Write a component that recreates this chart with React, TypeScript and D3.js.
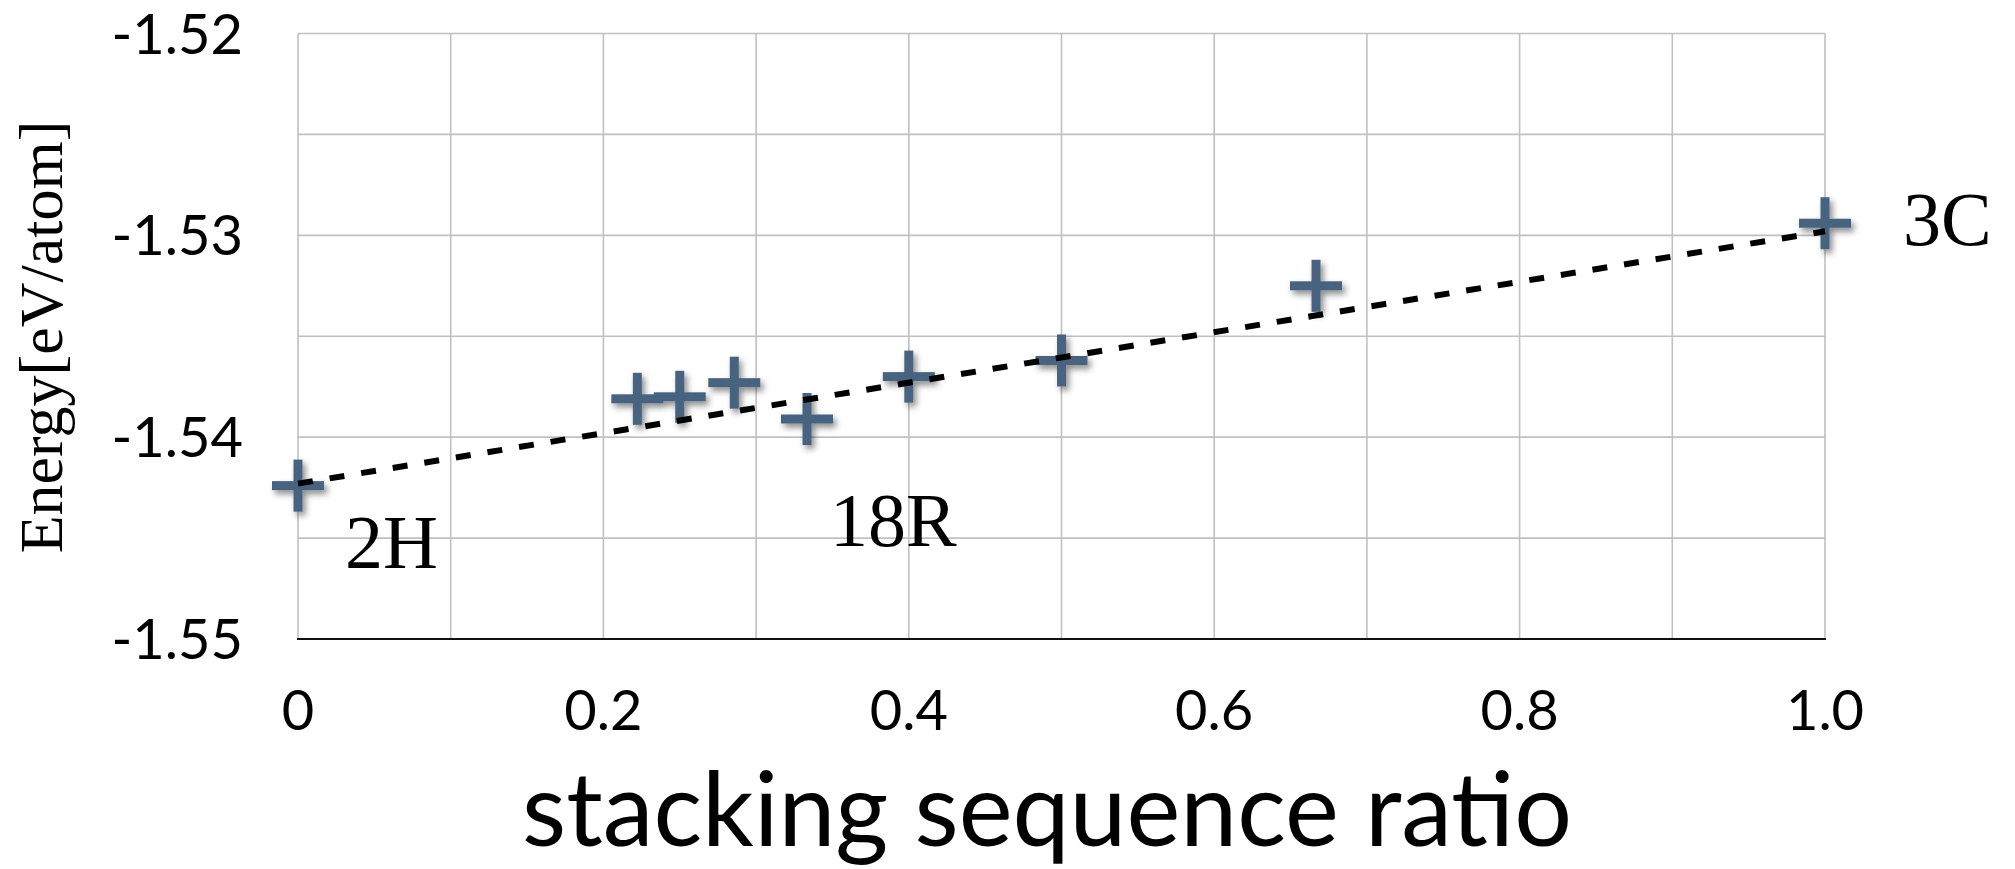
import React from "react";
import * as d3 from "d3";

// stacking ratio vs energy per atom
const ratios = [0, 2 / 9, 0.25, 2 / 7, 1 / 3, 0.4, 0.5, 2 / 3, 1.0];
const energies = [-1.5424, -1.5381, -1.538, -1.5373, -1.5391, -1.537, -1.5362, -1.5325, -1.5294];
const trendX = [0, 1.0];
const trendY = [-1.5423, -1.5298];
const yTicks = [-1.52, -1.53, -1.54, -1.55];
const yTickLabels = ["-1.52", "-1.53", "-1.54", "-1.55"];
const xTicks = [0, 0.2, 0.4, 0.6, 0.8, 1.0];
const xTickLabels = ["0", "0.2", "0.4", "0.6", "0.8", "1.0"];
const phaseLabels = [
    { text: "2H", x: 0, y: -1.5465 },
    { text: "18R", x: 1 / 3, y: -1.5454 },
    { text: "3C", x: 1.0, y: -1.5294 },
];

const W = 2015;
const H = 869;
const margin = { top: 33.5, right: 190, bottom: 230, left: 298 };

const App = () => {
    const x = d3.scaleLinear().domain([0, 1]).range([margin.left, W - margin.right]);
    const y = d3.scaleLinear().domain([-1.55, -1.52]).range([H - margin.bottom, margin.top]);

    const xGrid = d3.range(0, 1.0001, 0.1);
    const yGrid = d3.range(-1.55, -1.5199, 0.005);

    const line = d3
        .line<number>()
        .x((d, i) => x(d))
        .y((d, i) => y(trendY[i]));

    const arm = 26;
    const armW = 9;
    const labelFont = "'Liberation Serif', 'Times New Roman', serif";
    const tickFont = "Lato, 'Open Sans', sans-serif";

    return (
        <svg width={W} height={H} style={{ position: "absolute", left: 0, top: 0, background: "#fff" }}>
            <defs>
                <filter id="shadow" x="-50%" y="-50%" width="200%" height="200%">
                    <feDropShadow dx="3" dy="4" stdDeviation="3" floodColor="#000" floodOpacity="0.45" />
                </filter>
            </defs>

            {/* grid */}
            {xGrid.map((v, i) => (
                <line key={"gx" + i} x1={x(v)} x2={x(v)} y1={y(-1.52)} y2={y(-1.55)} stroke="#c0c0c0" strokeWidth={1.6} />
            ))}
            {yGrid.map((v, i) => (
                <line key={"gy" + i} x1={x(0)} x2={x(1)} y1={y(v)} y2={y(v)} stroke="#c0c0c0" strokeWidth={1.6} />
            ))}
            <line x1={x(0) - 1} x2={x(1) + 1} y1={y(-1.55)} y2={y(-1.55)} stroke="#111" strokeWidth={2.2} />

            {/* y ticks */}
            {yTicks.map((v, i) => (
                <text key={"yt" + i} x={243} y={y(v)} dy="0.36em" textAnchor="end" fontFamily={tickFont} fontSize={56} fill="#000">
                    {yTickLabels[i]}
                </text>
            ))}
            {/* x ticks */}
            {xTicks.map((v, i) => (
                <text key={"xt" + i} x={x(v)} y={710} dy="0.36em" textAnchor="middle" fontFamily={tickFont} fontSize={56} fill="#000">
                    {xTickLabels[i]}
                </text>
            ))}

            {/* markers */}
            <g filter="url(#shadow)" fill="#466480">
                {ratios.map((r, i) => (
                    <g key={"m" + i} transform={`translate(${x(r)},${y(energies[i])})`}>
                        <rect x={-arm} y={-armW / 2} width={arm * 2} height={armW} />
                        <rect x={-armW / 2} y={-arm} width={armW} height={arm * 2} />
                    </g>
                ))}
            </g>

            {/* trend line */}
            <path d={line(trendX) || ""} fill="none" stroke="#000" strokeWidth={6} strokeDasharray="15 17" />

            {/* phase labels */}
            <text x={x(phaseLabels[0].x) + 47} y={y(phaseLabels[0].y)} fontFamily={labelFont} fontSize={76}>
                {phaseLabels[0].text}
            </text>
            <text x={x(phaseLabels[1].x) + 23} y={y(phaseLabels[1].y)} fontFamily={labelFont} fontSize={76}>
                {phaseLabels[1].text}
            </text>
            <text x={x(phaseLabels[2].x) + 78} y={y(phaseLabels[2].y) + 22} fontFamily={labelFont} fontSize={76}>
                {phaseLabels[2].text}
            </text>

            {/* axis titles */}
            <text
                transform={`translate(62,337) rotate(-90)`}
                textAnchor="middle"
                fontFamily={labelFont}
                fontSize={62}
                fill="#000"
            >
                Energy[eV/atom]
            </text>
            <text x={1047} y={846} textAnchor="middle" fontFamily={tickFont} fontSize={102} fill="#000">
                stacking sequence ratio
            </text>
        </svg>
    );
};

export default App;
